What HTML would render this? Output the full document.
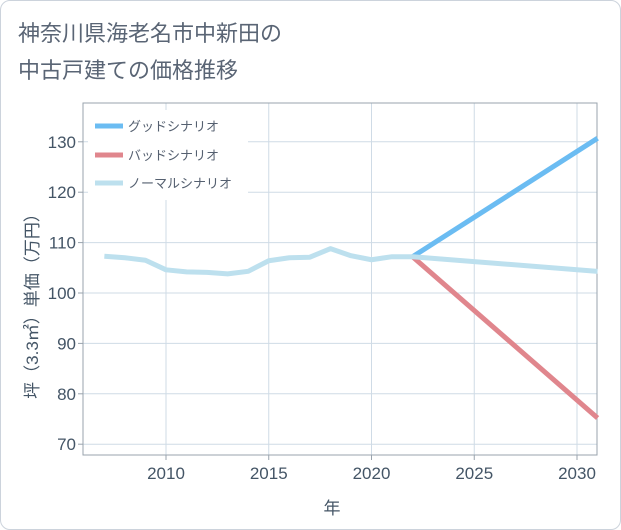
<!DOCTYPE html>
<html><head><meta charset="utf-8"><style>
body{margin:0;background:#fff;font-family:"Liberation Sans","Noto Sans CJK JP",sans-serif;}
#wrap{position:relative;width:621px;height:530px;box-sizing:border-box;border:1px solid #ccd3dc;border-radius:10px;overflow:hidden;background:#fff}
</style></head><body>
<div id="wrap">
<svg id="svg" width="621" height="530" style="position:absolute;left:-1px;top:-1px">
<text x="18" y="41" font-size="22" fill="#5a6575">神奈川県海老名市中新田の</text>
<text x="18" y="78" font-size="22" fill="#5a6575">中古戸建ての価格推移</text>
<g id="grid"></g><g id="axes"></g><g id="series"></g>
<text x="332" y="514" font-size="17" fill="#445566" text-anchor="middle">年</text>
<text transform="translate(38,302) rotate(-90)" font-size="17" fill="#445566" text-anchor="middle">坪（3.3㎡）単価（万円）</text>
<g>
<rect x="88" y="110" width="160" height="90" fill="#fff"/>
<line x1="95" y1="126" x2="123" y2="126" stroke="#6bbcf2" stroke-width="5"/>
<text x="128" y="131" font-size="13" fill="#556070">グッドシナリオ</text>
<line x1="95" y1="155" x2="123" y2="155" stroke="#e0868d" stroke-width="5"/>
<text x="128" y="160" font-size="13" fill="#556070">バッドシナリオ</text>
<line x1="95" y1="183" x2="123" y2="183" stroke="#bde0ee" stroke-width="5"/>
<text x="128" y="188" font-size="13" fill="#556070">ノーマルシナリオ</text>
</g>
</svg>
</div>
<script>
const normalYears=[2007,2008,2009,2010,2011,2012,2013,2014,2015,2016,2017,2018,2019,2020,2021,2022,2031];
const normalValues=[107.3,107,106.5,104.6,104.2,104.1,103.8,104.3,106.4,107,107.1,108.8,107.4,106.6,107.2,107.2,104.3];
const goodYears=[2022,2031];
const goodValues=[107.2,130.7];
const badYears=[2022,2031];
const badValues=[107.2,75.2];
const xTicks=[2010,2015,2020,2025,2030];
const yTicks=[70,80,90,100,110,120,130];
const L=83,R=597,T=103,B=455;
const X=y=>166+(y-2010)*20.55;
const Y=v=>293-(v-100)*5.04;
const ns="http://www.w3.org/2000/svg";
function mk(p,t,a){const e=document.createElementNS(ns,t);for(const k in a)e.setAttribute(k,a[k]);p.appendChild(e);return e;}
const g=document.getElementById('grid'),ax=document.getElementById('axes'),s=document.getElementById('series');
xTicks.forEach(t=>{const l=mk(g,'line',{x1:X(t),x2:X(t),y1:T,y2:B,stroke:'#cfdbe6'});});
yTicks.forEach(t=>{const l=mk(g,'line',{x1:L,x2:R,y1:Y(t),y2:Y(t),stroke:'#cfdbe6'});});
const fr=mk(ax,'rect',{x:L,y:T,width:R-L,height:B-T,fill:'none',stroke:'#99a3ad'});

xTicks.forEach(t=>{const e=mk(ax,'text',{x:X(t),y:479,'font-size':17,fill:'#445566','text-anchor':'middle'});e.textContent=t;
mk(ax,'line',{x1:X(t),x2:X(t),y1:B,y2:B+5,stroke:'#99a3ad'});});
yTicks.forEach(t=>{const e=mk(ax,'text',{x:76,y:Y(t)+6,'font-size':17,fill:'#445566','text-anchor':'end'});e.textContent=t;
mk(ax,'line',{x1:L-5,x2:L,y1:Y(t),y2:Y(t),stroke:'#99a3ad'});});
function line(ys,vs,c,n){const p=mk(s,'polyline',{points:ys.map((y,i)=>X(y)+','+Y(vs[i])).join(' '),fill:'none',stroke:c,'stroke-width':5,'stroke-linejoin':'round'});
}
line(goodYears,goodValues,'#6bbcf2','good-scenario-line');
line(badYears,badValues,'#e0868d','bad-scenario-line');
line(normalYears,normalValues,'#bde0ee','normal-scenario-line');
</script>
</body></html>
